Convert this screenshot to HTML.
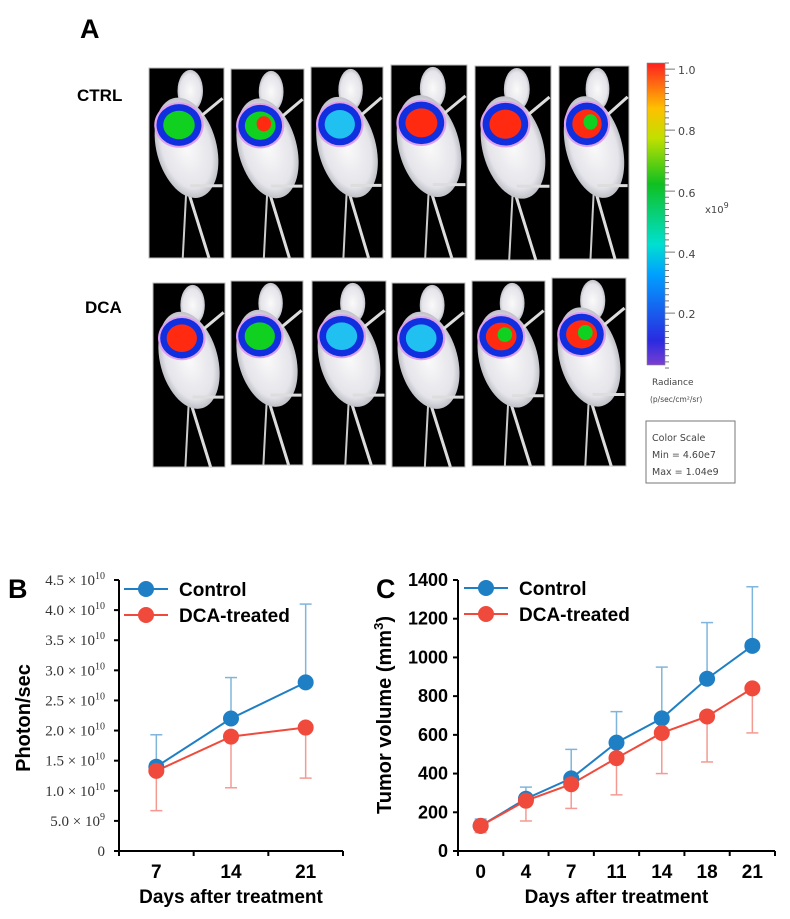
<!DOCTYPE html>
<html><head><meta charset="utf-8"><style>
body{margin:0;background:#fff;}
svg{display:block;font-family:"Liberation Sans",sans-serif;}
</style></head><body>
<svg width="790" height="919" viewBox="0 0 790 919">
<defs>
<linearGradient id="cb" x1="0" y1="1" x2="0" y2="0">
<stop offset="0" stop-color="#7a3fd0"/><stop offset="0.08" stop-color="#2a2ae0"/><stop offset="0.3" stop-color="#00a0ff"/><stop offset="0.4" stop-color="#00e0d0"/><stop offset="0.6" stop-color="#10c020"/><stop offset="0.75" stop-color="#c0e000"/><stop offset="0.85" stop-color="#ffc000"/><stop offset="1" stop-color="#ff2020"/>
</linearGradient>
<radialGradient id="fur"><stop offset="0" stop-color="#fafafa"/><stop offset="0.8" stop-color="#e4e4ea"/><stop offset="1" stop-color="#c0c0c8"/></radialGradient>
</defs>
<g id="panelA"></g>
<text x="80" y="38" font-size="27" font-weight="bold">A</text>
<text x="77" y="101" font-size="17" font-weight="bold">CTRL</text>
<text x="85" y="313" font-size="17" font-weight="bold">DCA</text>
<g>
<rect x="647" y="63" width="18" height="302" fill="url(#cb)" stroke="#888" stroke-width="0.6"/>
<g id="cbticks" stroke="#555" stroke-width="0.8"></g>
<g font-family="DejaVu Sans, sans-serif" font-size="11" fill="#444">
<text x="678" y="74">1.0</text><text x="678" y="135">0.8</text><text x="678" y="197">0.6</text><text x="678" y="258">0.4</text><text x="678" y="318">0.2</text>
<text x="705" y="213" font-size="10">x10<tspan dy="-5" font-size="8">9</tspan></text>
<text x="652" y="385" font-size="9">Radiance</text>
<text x="650" y="402" font-size="7.5">(p/sec/cm²/sr)</text>
</g>
<rect x="646" y="421" width="89" height="62" fill="none" stroke="#777" stroke-width="1"/>
<g font-family="DejaVu Sans, sans-serif" font-size="9.5" fill="#444">
<text x="652" y="441">Color Scale</text><text x="652" y="458">Min = 4.60e7</text><text x="652" y="475">Max = 1.04e9</text>
</g>
</g>
<text x="8" y="598" font-size="27" font-weight="bold">B</text>
<text x="376" y="598" font-size="27" font-weight="bold">C</text>
<g id="chartB"></g>
<g id="chartC"></g>
</svg>
<script>
// Chart B data (photon/sec, x1e10)
const bCategories = ["7","14","21"];
const bControl = [1.4, 2.2, 2.8];
const bControlErrTop = [1.93, 2.88, 4.1];
const bDCA = [1.33, 1.9, 2.05];
const bDCAErrBottom = [0.67, 1.05, 1.21];
const bTickLabels = ["0","5.0 × 10^9","1.0 × 10^10","1.5 × 10^10","2.0 × 10^10","2.5 × 10^10","3.0 × 10^10","3.5 × 10^10","4.0 × 10^10","4.5 × 10^10"];
const bTickValues = [0,0.5,1.0,1.5,2.0,2.5,3.0,3.5,4.0,4.5];
// Chart C data (tumor volume mm3)
const cCategories = ["0","4","7","11","14","18","21"];
const cControl = [130, 270, 375, 560, 685, 890, 1060];
const cControlErrTop = [165, 330, 525, 720, 950, 1180, 1365];
const cDCA = [130, 260, 345, 480, 610, 695, 840];
const cDCAErrBottom = [95, 155, 220, 290, 400, 460, 610];
const cTickValues = [0,200,400,600,800,1000,1200,1400];

const NS = "http://www.w3.org/2000/svg";
function mk(tag, attrs, parent){const e=document.createElementNS(NS,tag);for(const k in attrs)e.setAttribute(k,attrs[k]);parent.appendChild(e);return e;}
const BLUE="#1f7fc4", RED="#f04a3c", BLUEL="#7fb5dc", REDL="#f49a92";

const cbt=document.getElementById('cbticks');
for(let i=0;i<=50;i++){const y=63+i*6.1;mk('line',{x1:665,x2:(i%10==1?675:669),y1:y,y2:y},cbt);}

const A=document.getElementById('panelA');
const panels=[
 [149,68,75,190,'g'],[231,69,73,189,'gr'],[311,67,72,191,'b'],[391,65,76,193,'r'],[475,66,76,194,'r'],[559,66,70,193,'rg'],
 [153,283,72,184,'r'],[231,281,72,184,'g'],[312,281,74,184,'b'],[392,283,73,184,'b'],[472,281,73,185,'rg'],[552,278,74,188,'rg']];
panels.forEach((p,i)=>{
 const [x,y,w,h,t]=p;
 const g=mk('g',{},A);
 
 
 mk('rect',{x:x,y:y,width:w,height:h,fill:'#000',stroke:'#bbb','stroke-width':1},g);
 mk('line',{x1:x+w*0.5,y1:y+h*0.62,x2:x+w*0.8,y2:y+h,stroke:'#ddd','stroke-width':3},g);
 mk('line',{x1:x+w*0.5,y1:y+h*0.62,x2:x+w*0.45,y2:y+h,stroke:'#ccc','stroke-width':2},g);
 mk('ellipse',{cx:x+w*0.55,cy:y+h*0.12,rx:w*0.17,ry:h*0.11,fill:'url(#fur)'},g);
 mk('ellipse',{cx:x+w*0.5,cy:y+h*0.42,rx:w*0.4,ry:h*0.27,fill:'url(#fur)',transform:`rotate(-15 ${x+w*0.5} ${y+h*0.42})`},g);
 mk('line',{x1:x+w*0.55,y1:y+h*0.3,x2:x+w*0.98,y2:y+h*0.16,stroke:'#ddd','stroke-width':3},g);
 mk('line',{x1:x+w*0.55,y1:y+h*0.62,x2:x+w*0.98,y2:y+h*0.62,stroke:'#ddd','stroke-width':3},g);
 const cx=x+w*0.4, cy=y+h*0.3;
 mk('ellipse',{cx:cx,cy:cy,rx:w*0.33,ry:h*0.12,fill:'#e0a0f0'},g);
 mk('ellipse',{cx:cx,cy:cy,rx:w*0.3,ry:h*0.11,fill:'#1030e0'},g);
 const inner = t[0]=='b'?'#20c0f0':(t[0]=='g'?'#10d020':'#ff2a10');
 mk('ellipse',{cx:cx,cy:cy,rx:w*0.21,ry:h*0.075,fill:inner},g);
 if(t.length>1){mk('ellipse',{cx:cx+w*0.05,cy:cy-h*0.01,rx:w*0.1,ry:h*0.04,fill:t[1]=='r'?'#ff2a10':'#10d020'},g);}
});

function chart(gid, o){
 const G=document.getElementById(gid);
 const yS=v=>o.y0-(v/o.vmax)*(o.y0-o.y1);
 const bw=(o.x1-o.x0)/o.cats.length;
 const xS=i=>o.x0+bw*(i+0.5);
 const ya=mk('line',{x1:o.x0,y1:o.y1,x2:o.x0,y2:o.y0,stroke:'#000','stroke-width':2},G);
 
 
 const xa=mk('line',{x1:o.x0-1,y1:o.y0,x2:o.x1,y2:o.y0,stroke:'#000','stroke-width':2},G);
 
 
 o.ticks.forEach((v,i)=>{
  const y=yS(v);
  mk('line',{x1:o.x0-5,x2:o.x0,y1:y,y2:y,stroke:'#000','stroke-width':2},G);
  const t=mk('text',{x:o.x0-(o.serif?14:10),y:y+(o.serif?5:6),'text-anchor':'end','font-size':o.serif?15:18,'font-weight':o.serif?'normal':'bold','font-family':o.serif?'"Liberation Serif",serif':'"Liberation Sans",sans-serif',fill:o.serif?'#333':'#000'},G);
  
  
  const lab=o.labels?o.labels[i]:String(v);
  const parts=lab.split('^');
  t.appendChild(document.createTextNode(parts[0]));
  if(parts[1]){const s=mk('tspan',{dy:-6,'font-size':10},t);s.textContent=parts[1];}
 });
 for(let i=0;i<=o.cats.length;i++){const x=o.x0+bw*i;mk('line',{x1:x,x2:x,y1:o.y0,y2:o.y0+5,stroke:'#000','stroke-width':2},G);}
 o.cats.forEach((c,i)=>{const t=mk('text',{x:xS(i),y:o.y0+27,'text-anchor':'middle','font-size':19,'font-weight':'bold'},G);t.textContent=c;
  
  });
 const xt=mk('text',{x:(o.x0+o.x1)/2,y:o.y0+52,'text-anchor':'middle','font-size':19,'font-weight':'bold'},G);
 xt.textContent='Days after treatment';
 
 
 const yt=mk('text',{x:0,y:0,'text-anchor':'middle','font-size':20,'font-weight':'bold',transform:`translate(${o.ylx},${o.yly}) rotate(-90)`},G);
 
 
 yt.appendChild(document.createTextNode(o.ytitle));
 if(o.ysup){const s=mk('tspan',{dy:-8,'font-size':13},yt);s.textContent=o.ysup;const s2=mk('tspan',{dy:8},yt);s2.textContent=')';}
 [[o.ctl,o.ctlErr,BLUEL,'control-error-bar'],[o.dca,o.dcaErr,REDL,'dca-error-bar']].forEach(([vals,err,col,nm])=>{
  vals.forEach((v,i)=>{const x=xS(i);
   const e=mk('line',{x1:x,x2:x,y1:yS(v),y2:yS(err[i]),stroke:col,'stroke-width':1.5},G);
   
   
   mk('line',{x1:x-6,x2:x+6,y1:yS(err[i]),y2:yS(err[i]),stroke:col,'stroke-width':1.5},G);});
 });
 [[o.ctl,BLUE,'control'],[o.dca,RED,'dca']].forEach(([vals,col,nm])=>{
  const l=mk('polyline',{points:vals.map((v,i)=>xS(i)+','+yS(v)).join(' '),fill:'none',stroke:col,'stroke-width':2},G);
  
  
 });
 [[o.ctl,BLUE,'control'],[o.dca,RED,'dca']].forEach(([vals,col,nm])=>{
  vals.forEach((v,i)=>{const c=mk('circle',{cx:xS(i),cy:yS(v),r:8,fill:col},G);
   
   });
 });
 [['Control',BLUE,o.lgy],['DCA-treated',RED,o.lgy+26]].forEach(([n,col,y])=>{
  const lg=mk('g',{},G);
  
  
  mk('line',{x1:o.lgx,x2:o.lgx+44,y1:y,y2:y,stroke:col,'stroke-width':2},lg);
  mk('circle',{cx:o.lgx+22,cy:y,r:8,fill:col},lg);
  const t=mk('text',{x:o.lgx+55,y:y+7,'font-size':19,'font-weight':'bold'},lg);t.textContent=n;
 });
}
chart('chartB',{x0:119,x1:343,y0:851,y1:580,vmax:4.5,cats:bCategories,ticks:bTickValues,labels:bTickLabels,serif:true,
 ctl:bControl,ctlErr:bControlErrTop,dca:bDCA,dcaErr:bDCAErrBottom,ylx:30,yly:718,ytitle:'Photon/sec',lgx:124,lgy:589});
chart('chartC',{x0:458,x1:775,y0:851,y1:580,vmax:1400,cats:cCategories,ticks:cTickValues,serif:false,
 ctl:cControl,ctlErr:cControlErrTop,dca:cDCA,dcaErr:cDCAErrBottom,ylx:391,yly:715,ytitle:'Tumor volume (mm',ysup:'3',lgx:464,lgy:588});
</script>
</body></html>
